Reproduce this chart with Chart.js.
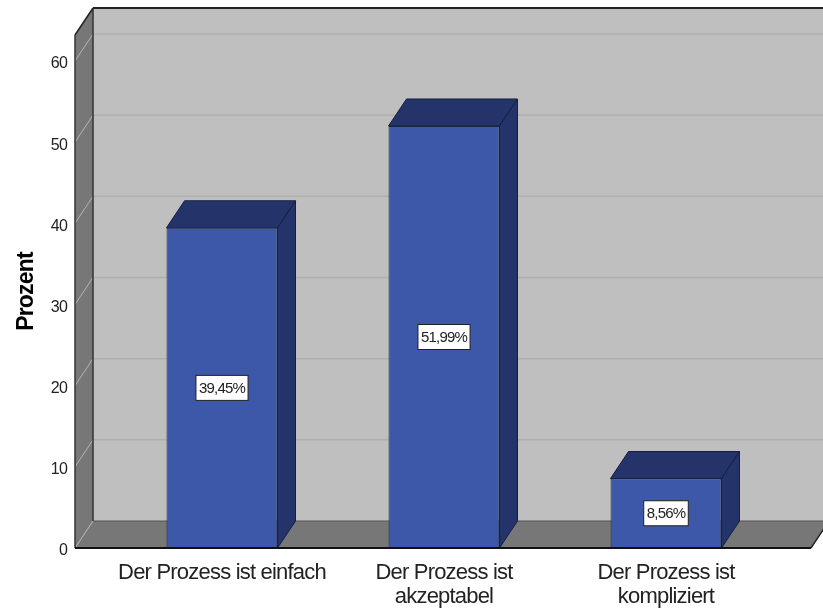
<!DOCTYPE html>
<html>
<head>
<meta charset="utf-8">
<style>
body { margin: 0; background: #fff; }
canvas { display: block; filter: blur(0.45px); }
</style>
<script src="https://cdn.jsdelivr.net/npm/chart.js@4/dist/chart.umd.min.js"></script>
</head>
<body>
<canvas id="myChart" width="823" height="611"></canvas>
<script>
var categories = [["Der Prozess ist einfach"], ["Der Prozess ist", "akzeptabel"], ["Der Prozess ist", "kompliziert"]];
var percentValues = [39.45, 51.99, 8.56];
var yTicks = [0, 10, 20, 30, 40, 50, 60];
var yMax = 63.2;

var depthX = 18;
var depthY = 27;
var FONT = '"Liberation Sans", Arial, sans-serif';

function poly(ctx, pts, fill, stroke, lw) {
    ctx.beginPath();
    ctx.moveTo(pts[0][0], pts[0][1]);
    for (var i = 1; i < pts.length; i++) {
        ctx.lineTo(pts[i][0], pts[i][1]);
    }
    ctx.closePath();
    if (fill) {
        ctx.fillStyle = fill;
        ctx.fill();
    }
    if (stroke) {
        ctx.strokeStyle = stroke;
        ctx.lineWidth = lw || 1;
        ctx.stroke();
    }
}

function line(ctx, x1, y1, x2, y2, color, lw) {
    ctx.beginPath();
    ctx.moveTo(x1, y1);
    ctx.lineTo(x2, y2);
    ctx.strokeStyle = color;
    ctx.lineWidth = lw;
    ctx.stroke();
}

// the room behind the bars: back wall, left wall and floor
var roomPlugin = {
    id: 'room',
    beforeDraw: function (chart) {
        var ctx = chart.ctx;
        var y = chart.scales.y;
        var area = chart.chartArea;
        var left = area.left - 36;
        var right = area.right + 34;
        var floorY = y.getPixelForValue(0);
        var topY = y.getPixelForValue(yMax);

        // the reference text is squeezed, no narrow font here so tighten it
        ctx.letterSpacing = '-0.8px';

        ctx.save();
        poly(ctx, [[left + depthX, topY - depthY], [right + depthX, topY - depthY], [right + depthX, floorY - depthY], [left + depthX, floorY - depthY]], '#bfbfbf');
        poly(ctx, [[left, topY], [left + depthX, topY - depthY], [left + depthX, floorY - depthY], [left, floorY]], '#777777');
        poly(ctx, [[left, floorY], [left + depthX, floorY - depthY], [right + depthX, floorY - depthY], [right, floorY]], '#777777');

        yTicks.forEach(function (t) {
            var py = y.getPixelForValue(t);
            if (t > 0) {
                line(ctx, left + depthX, py - depthY, right + depthX, py - depthY, '#afafaf', 1.5);
            }
            line(ctx, left, py, left + depthX, py - depthY, '#b4b4b4', 1);
        });

        line(ctx, left + depthX, topY - depthY, right + depthX, topY - depthY, '#222222', 2);
        line(ctx, left + depthX, topY - depthY, left + depthX, floorY - depthY, '#333333', 1.5);
        line(ctx, left + depthX, floorY - depthY, right + depthX, floorY - depthY, '#555555', 1);
        line(ctx, left, topY, left + depthX, topY - depthY, '#222222', 1.5);
        line(ctx, left, topY, left, floorY, '#333333', 1.5);
        line(ctx, right, floorY, right + depthX, floorY - depthY, '#222222', 1.5);
        ctx.restore();
    }
};

// top and side faces of the bars, and the value boxes
var barBoxPlugin = {
    id: 'barBox',
    beforeDatasetsDraw: function (chart) {
        var ctx = chart.ctx;
        ctx.save();
        chart.getDatasetMeta(0).data.forEach(function (bar) {
            var x0 = bar.x - bar.width / 2;
            var x1 = bar.x + bar.width / 2;
            poly(ctx, [[x0, bar.y], [x0 + depthX, bar.y - depthY], [x1 + depthX, bar.y - depthY], [x1, bar.y]], '#24346b', '#14203f', 1);
            poly(ctx, [[x1, bar.y], [x1 + depthX, bar.y - depthY], [x1 + depthX, bar.base - depthY], [x1, bar.base]], '#24346b', '#14203f', 1);
        });
        ctx.restore();
    },
    afterDatasetsDraw: function (chart) {
        var ctx = chart.ctx;
        var area = chart.chartArea;
        var floorY = chart.scales.y.getPixelForValue(0);
        ctx.save();
        line(ctx, area.left - 36, floorY, area.right + 34, floorY, '#111111', 2);

        ctx.font = '15px ' + FONT;
        ctx.textAlign = 'center';
        ctx.textBaseline = 'middle';
        chart.getDatasetMeta(0).data.forEach(function (bar, i) {
            var label = percentValues[i].toFixed(2).replace('.', ',') + '%';
            var w = ctx.measureText(label).width + 6;
            var cy = (bar.y + bar.base) / 2;
            ctx.fillStyle = '#ffffff';
            ctx.fillRect(bar.x - w / 2, cy - 12.5, w, 25);
            ctx.strokeStyle = '#222222';
            ctx.lineWidth = 1;
            ctx.strokeRect(bar.x - w / 2, cy - 12.5, w, 25);
            ctx.fillStyle = '#222222';
            ctx.fillText(label, bar.x, cy + 1);
        });
        ctx.restore();
    }
};

var ctx = document.getElementById('myChart');
var myChart = new Chart(ctx, {
    type: 'bar',
    data: {
        labels: categories,
        datasets: [{
            label: 'Prozent',
            data: percentValues,
            backgroundColor: '#3d58a8',
            borderColor: '#1c2440',
            borderWidth: 1,
            categoryPercentage: 0.5,
            barPercentage: 1
        }]
    },
    plugins: [roomPlugin, barBoxPlugin],
    options: {
        responsive: false,
        animation: false,
        layout: {
            padding: { top: 35, right: 46, left: 0, bottom: 0 }
        },
        plugins: {
            legend: { display: false },
            tooltip: { enabled: false }
        },
        scales: {
            x: {
                grid: { display: false, drawTicks: false },
                border: { display: false },
                afterFit: function (scale) { scale.height = 63; },
                ticks: {
                    autoSkip: false,
                    maxRotation: 0,
                    padding: 13,
                    color: '#222222',
                    font: { family: FONT, size: 22, lineHeight: 1.09 }
                }
            },
            y: {
                min: 0,
                max: yMax,
                grid: { display: false, drawTicks: false },
                border: { display: false },
                afterFit: function (scale) {
                    scale.width = 111;
                    // big tick padding would otherwise push the plot top down
                    scale.paddingTop = 0;
                    scale.paddingBottom = 0;
                },
                afterBuildTicks: function (scale) {
                    scale.ticks = yTicks.map(function (v) { return { value: v }; });
                },
                title: {
                    display: true,
                    text: 'Prozent',
                    color: '#000000',
                    padding: { top: 13, bottom: 0 },
                    font: { family: FONT, size: 23, weight: 'bold' }
                },
                ticks: {
                    padding: 44,
                    labelOffset: 3,
                    color: '#222222',
                    font: { family: FONT, size: 16 }
                }
            }
        }
    }
});
</script>
</body>
</html>
